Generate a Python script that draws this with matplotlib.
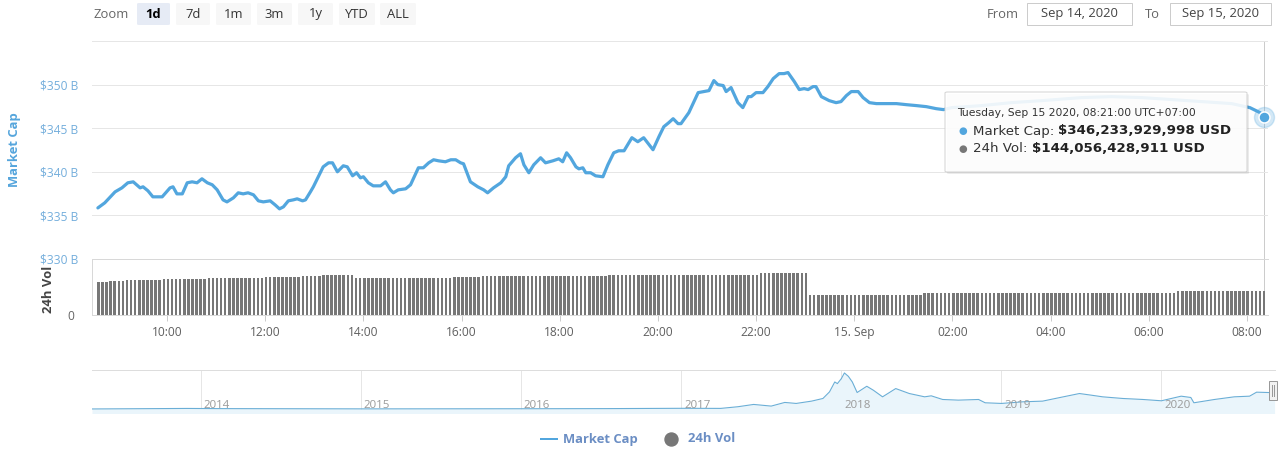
import numpy as np
import matplotlib
matplotlib.use("Agg")
import matplotlib.pyplot as plt
import matplotlib.dates as mdates
from matplotlib.patches import FancyBboxPatch, Rectangle
from matplotlib.lines import Line2D
import datetime as dt

W, H = 1280, 459

# ---------------- data ----------------
# Market cap (billions USD), hours since 00:00 Sep 14 2020 (values >24 are Sep 15)
mcap_hours = [8.59, 8.73, 8.94, 9.08, 9.20, 9.31, 9.45, 9.51, 9.61, 9.71,
              9.90, 10.06, 10.12, 10.20, 10.31, 10.41, 10.51, 10.61, 10.71, 10.82,
              10.92, 11.02, 11.14, 11.22, 11.35, 11.45, 11.55, 11.65, 11.76, 11.86,
              11.96, 12.10, 12.20, 12.29, 12.37, 12.47, 12.57, 12.65, 12.76, 12.82,
              12.92, 12.98, 13.08, 13.18, 13.29, 13.37, 13.47, 13.59, 13.67, 13.78,
              13.86, 13.94, 14.00, 14.10, 14.20, 14.35, 14.45, 14.55, 14.61, 14.71,
              14.86, 14.96, 15.12, 15.22, 15.33, 15.43, 15.53, 15.67, 15.78, 15.88,
              15.98, 16.04, 16.18, 16.33, 16.45, 16.53, 16.65, 16.80, 16.90, 16.96,
              17.10, 17.20, 17.27, 17.37, 17.47, 17.61, 17.71, 17.86, 17.98, 18.06,
              18.14, 18.22, 18.33, 18.39, 18.47, 18.53, 18.63, 18.73, 18.88, 18.98,
              19.10, 19.20, 19.31, 19.47, 19.59, 19.71, 19.90, 20.02, 20.12, 20.22,
              20.31, 20.41, 20.47, 20.63, 20.82, 20.94, 21.04, 21.14, 21.22, 21.33,
              21.39, 21.49, 21.63, 21.73, 21.84, 21.90, 22.00, 22.14, 22.24, 22.35,
              22.47, 22.57, 22.65, 22.78, 22.88, 22.98, 23.06, 23.16, 23.22, 23.33,
              23.49, 23.63, 23.73, 23.84, 23.94, 24.08, 24.18, 24.31, 24.45, 24.65,
              24.86, 25.06, 25.27, 25.47, 25.67, 25.82, 25.98, 26.59, 27.20, 27.82,
              28.63, 29.24, 29.86, 30.47, 31.08, 31.69, 32.06, 32.27, 32.35]
mcap_values = [335.86, 336.44, 337.70, 338.16, 338.74, 338.85, 338.16, 338.28, 337.82, 337.13,
               337.13, 338.16, 338.28, 337.47, 337.47, 338.74, 338.85, 338.74, 339.20, 338.74,
               338.51, 337.93, 336.78, 336.55, 337.01, 337.59, 337.47, 337.59, 337.36, 336.67,
               336.55, 336.67, 336.21, 335.75, 335.98, 336.67, 336.78, 336.90, 336.67, 336.78,
               337.70, 338.28, 339.43, 340.57, 341.03, 341.03, 340.00, 340.69, 340.57, 339.54,
               339.89, 339.31, 339.43, 338.74, 338.39, 338.39, 338.85, 337.93, 337.59, 337.93,
               338.05, 338.51, 340.46, 340.46, 341.03, 341.38, 341.26, 341.15, 341.38, 341.38,
               341.03, 340.92, 338.85, 338.28, 337.93, 337.59, 338.16, 338.74, 339.43, 340.69,
               341.61, 342.07, 340.80, 339.89, 340.80, 341.61, 341.03, 341.26, 341.49, 341.15,
               342.18, 341.61, 340.57, 340.34, 340.46, 339.89, 339.89, 339.54, 339.43, 340.80,
               342.18, 342.41, 342.41, 343.91, 343.45, 343.91, 342.53, 344.02, 345.17, 345.63,
               346.09, 345.52, 345.52, 346.78, 349.08, 349.20, 349.31, 350.46, 350.00, 349.89,
               349.20, 349.66, 347.93, 347.36, 348.62, 348.62, 349.08, 349.08, 349.77, 350.69,
               351.26, 351.26, 351.38, 350.34, 349.43, 349.54, 349.43, 349.77, 349.77, 348.62,
               348.16, 347.93, 348.05, 348.74, 349.20, 349.20, 348.51, 347.93, 347.82, 347.82,
               347.82, 347.70, 347.59, 347.47, 347.24, 347.13, 347.36, 347.59, 347.93, 348.16,
               348.51, 348.62, 348.51, 348.28, 348.05, 347.82, 347.36, 346.78, 346.23]

# 24h volume (billions USD): level changes (hour, value); one bar every 5 minutes
vol_step_hours = [8.60, 8.83, 9.17, 9.92, 10.83, 12.00, 12.75, 13.17, 13.80, 15.77,
                  16.40, 19.00, 22.08, 23.08, 25.42, 28.07, 30.58]
vol_step_values = [199, 205, 211, 217, 223, 231, 237, 243, 225, 233,
                   236, 240, 253, 122, 132, 136, 144.06]
bar_first_minute = 8 * 60 + 36          # 08:36 Sep 14
bar_last_minute = 32 * 60 + 21          # 08:21 Sep 15
bar_step_minutes = 5

xtick_hours = [10, 12, 14, 16, 18, 20, 22, 24, 26, 28, 30, 32]
xtick_labels = ["10:00", "12:00", "14:00", "16:00", "18:00", "20:00", "22:00",
                "15. Sep", "02:00", "04:00", "06:00", "08:00"]
ytick_values = [330, 335, 340, 345, 350, 355]
ytick_labels = ["$330 B", "$335 B", "$340 B", "$345 B", "$350 B", ""]

# Navigator: total market cap history (billions USD, as drawn)
nav_dates = ["2013-04-28", "2013-11-30", "2014-02-15", "2014-06-15", "2015-01-15",
             "2016-01-15", "2016-07-15", "2017-01-01", "2017-04-01", "2017-05-10",
             "2017-06-15", "2017-07-25", "2017-08-25", "2017-09-20", "2017-10-25",
             "2017-11-20", "2017-12-05", "2017-12-17", "2017-12-23", "2018-01-01",
             "2018-01-08", "2018-01-17", "2018-01-26", "2018-02-06", "2018-02-28",
             "2018-03-15", "2018-04-05", "2018-05-05", "2018-06-05", "2018-07-10",
             "2018-07-25", "2018-08-20", "2018-09-25", "2018-11-10", "2018-11-25",
             "2019-01-01", "2019-02-20", "2019-04-05", "2019-05-15", "2019-06-28",
             "2019-07-25", "2019-08-20", "2019-10-05", "2019-11-20", "2020-01-01",
             "2020-02-15", "2020-03-08", "2020-03-15", "2020-05-01", "2020-06-15",
             "2020-07-20", "2020-08-05", "2020-09-01", "2020-09-15"]
nav_values = [2, 14, 10, 8, 4, 7, 10, 17, 15, 53,
              106, 68, 152, 129, 182, 243, 395, 623, 585, 700,
              830, 752, 623, 380, 524, 433, 281, 471, 357, 281,
              304, 220, 205, 220, 144, 129, 167, 182, 266, 357,
              319, 281, 243, 220, 190, 296, 266, 144, 220, 281,
              296, 388, 380, 372]
nav_years = [2014, 2015, 2016, 2017, 2018, 2019, 2020]

zoom_buttons = ["1d", "7d", "1m", "3m", "1y", "YTD", "ALL"]
date_from = "Sep 14, 2020"
date_to = "Sep 15, 2020"
tooltip_title = "Tuesday, Sep 15 2020, 08:21:00 UTC+07:00"
tooltip_mcap = "$346,233,929,998 USD"
tooltip_vol = "$144,056,428,911 USD"

# ---------------- styling ----------------
FONT = "Open Sans"
BLUE = "#52a6de"
LABEL_BLUE = "#74aedc"
GRID = "#e6e6e6"
BAR = "#777777"
PT = 0.72  # points per pixel at dpi 100


def box(l, t, r, b):
    return [l / W, 1 - b / H, (r - l) / W, (b - t) / H]


def fx(x):
    return x / W


def fy(y):
    return 1 - y / H


fig = plt.figure(figsize=(W / 100, H / 100), dpi=100)
fig.patch.set_facecolor("white")

XMIN, XMAX = 8.47, 32.43

# ---- main pane ----
ax = fig.add_axes(box(92, 41, 1268, 259))
ax.plot(mcap_hours, mcap_values, color=BLUE, lw=3.2 * PT, solid_joinstyle="round",
        solid_capstyle="round", zorder=3)
ax.set_xlim(XMIN, XMAX)
ax.set_ylim(330, 355)
ax.set_yticks(ytick_values)
ax.set_yticklabels(ytick_labels)
ax.set_xticks([])
ax.tick_params(axis="y", length=0, pad=14 * PT, labelsize=12 * PT, labelcolor=LABEL_BLUE)
for lab in ax.get_yticklabels():
    lab.set_fontfamily(FONT)
ax.grid(axis="y", color=GRID, lw=1 * PT)
for s in ax.spines.values():
    s.set_visible(False)
ax.set_facecolor("none")

# crosshair + hover point
last_t, last_v = mcap_hours[-1], mcap_values[-1]
ax.axvline(last_t, color="#cccccc", lw=1 * PT, zorder=1, ymin=0, ymax=1)
ax.plot([last_t], [last_v], "o", ms=20 * PT, color=BLUE, alpha=0.25, zorder=4, clip_on=False)
ax.plot([last_t], [last_v], "o", ms=11 * PT, color=BLUE, mec="white", mew=1.5 * PT,
        zorder=5, clip_on=False)

# ---- volume pane ----
vax = fig.add_axes(box(92, 259, 1268, 315))
bar_minutes = np.arange(bar_first_minute, bar_last_minute + 1, bar_step_minutes)
bar_hours = bar_minutes / 60.0
idx = np.searchsorted(vol_step_hours, bar_hours + 1e-9, side="right") - 1
idx = np.clip(idx, 0, len(vol_step_values) - 1)
bar_vals = np.asarray(vol_step_values)[idx]
vax.bar(bar_hours, bar_vals, width=2.6 / 49.0, color=BAR, linewidth=0, zorder=2)
vax.axvline(last_t, color="#cccccc", lw=1 * PT, zorder=1)
vax.set_xlim(XMIN, XMAX)
vax.set_ylim(0, 340)
vax.set_yticks([0])
vax.set_yticklabels(["0"])
vax.tick_params(axis="y", length=0, pad=18 * PT, labelsize=12 * PT, labelcolor="#666666")
vax.set_xticks(xtick_hours)
vax.set_xticklabels(xtick_labels)
vax.tick_params(axis="x", length=6 * PT, width=1 * PT, color="#cccccc", direction="out",
                pad=5 * PT, labelsize=12 * PT, labelcolor="#606060")
for lab in vax.get_xticklabels() + vax.get_yticklabels():
    lab.set_fontfamily(FONT)
vax.spines["right"].set_visible(False)
for k in ["left", "top", "bottom"]:
    vax.spines[k].set_color("#d8d8d8")
    vax.spines[k].set_linewidth(1 * PT)
vax.set_facecolor("none")

# axis titles
fig.text(fx(15), fy(150), "Market Cap", rotation=90, ha="center", va="center",
         color="#55a5dc", fontsize=13 * PT, fontweight="bold", family=FONT)
fig.text(fx(48), fy(289), "24h Vol", rotation=90, ha="center", va="center",
         color="#444444", fontsize=13 * PT, fontweight="bold", family=FONT)

# ---- tooltip ----
shadow = FancyBboxPatch((fx(947), fy(174)), fx(1249) - fx(947), fy(94) - fy(174),
                        boxstyle="round,pad=0,rounding_size=0.002", transform=fig.transFigure,
                        facecolor="#000000", alpha=0.08, edgecolor="none", zorder=9)
fig.patches.append(shadow)
tip = FancyBboxPatch((fx(945), fy(172)), fx(1247) - fx(945), fy(92) - fy(172),
                     boxstyle="round,pad=0,rounding_size=0.002", transform=fig.transFigure,
                     facecolor="white", alpha=0.9, edgecolor="#cfcfcf", lw=1 * PT, zorder=10)
fig.patches.append(tip)
TFONT = "DejaVu Sans"
fig.text(fx(957), fy(113), tooltip_title, ha="left", va="center", fontsize=10.8 * PT,
         color="#333333", family=TFONT, zorder=11)
fig.text(fx(963), fy(131), "●", ha="center", va="center", fontsize=10 * PT, color=BLUE,
         family=TFONT, zorder=11)
t1 = fig.text(fx(973), fy(131), "Market Cap: ", ha="left", va="center", fontsize=13.4 * PT,
              color="#333333", family=TFONT, zorder=11)
fig.text(fx(963), fy(149), "●", ha="center", va="center", fontsize=10 * PT, color=BAR,
         family=TFONT, zorder=11)
t2 = fig.text(fx(973), fy(149), "24h Vol: ", ha="left", va="center", fontsize=13.4 * PT,
              color="#333333", family=TFONT, zorder=11)
for base, val in [(t1, tooltip_mcap), (t2, tooltip_vol)]:
    fig.add_artist(matplotlib.text.Annotation(
        val, xy=(1, 0.5), xycoords=base, ha="left", va="center", fontsize=13.4 * PT,
        color="#222222", fontweight="bold", family=TFONT, zorder=11))

# ---- navigator ----
nax = fig.add_axes(box(92, 370, 1275, 413))
nd = [dt.datetime.strptime(d, "%Y-%m-%d") for d in nav_dates]
nax.fill_between(nd, nav_values, -200, color="#eaf5fb", linewidth=0, zorder=1)
nax.plot(nd, nav_values, color="#6aaed6", lw=1.1 * PT, zorder=2)
nax.set_xlim(dt.datetime(2013, 4, 28), dt.datetime(2020, 9, 16))
nax.set_ylim(-91, 898)
nax.set_yticks([])
year_dates = [dt.datetime(y, 1, 1) for y in nav_years]
nax.set_xticks([])
for y, d in zip(nav_years, year_dates):
    nax.axvline(d, color="#e6e6e6", lw=1 * PT, zorder=0)
    nax.annotate(str(y), xy=(mdates.date2num(d), 0), xycoords=("data", "axes fraction"),
                 xytext=(3 * PT, 2 * PT), textcoords="offset points", ha="left",
                 va="bottom", fontsize=11.5 * PT, color="#9a9a9a", family=FONT, zorder=3)
for k in ["left", "right", "bottom"]:
    nax.spines[k].set_visible(False)
nax.spines["top"].set_color("#dddddd")
nax.spines["top"].set_linewidth(1 * PT)
# navigator handle
handle = Rectangle((fx(1269), fy(400)), 8 / W, (400 - 381) / H,
                   transform=fig.transFigure, facecolor="#f2f2f2", edgecolor="#999999",
                   lw=1 * PT, zorder=6)
fig.patches.append(handle)
for hx in (1272, 1274):
    fig.add_artist(Line2D([fx(hx), fx(hx)], [fy(385), fy(396)], color="#999999",
                          lw=1 * PT, zorder=7))

# ---- zoom buttons ----
fig.text(fx(111), fy(14), "Zoom", ha="center", va="center", fontsize=13 * PT,
         color="#666666", family=FONT)
btn_left = [137, 176, 216, 257, 298, 339, 380]
btn_right = [170, 210, 251, 292, 333, 375, 416]
for i, lab in enumerate(zoom_buttons):
    sel = i == 0
    p = FancyBboxPatch((fx(btn_left[i]), fy(25)), (btn_right[i] - btn_left[i]) / W, 22 / H,
                       boxstyle="round,pad=0,rounding_size=0.002", transform=fig.transFigure,
                       facecolor="#e6ebf5" if sel else "#f7f7f7", edgecolor="none")
    fig.patches.append(p)
    fig.text(fx((btn_left[i] + btn_right[i]) / 2), fy(14), lab, ha="center", va="center",
             fontsize=13 * PT, color="#000000" if sel else "#333333",
             fontweight="bold" if sel else "normal", family=FONT)

# ---- date range inputs ----
fig.text(fx(1019), fy(14), "From", ha="right", va="center", fontsize=13 * PT,
         color="#666666", family=FONT)
fig.text(fx(1160), fy(14), "To", ha="right", va="center", fontsize=13 * PT,
         color="#666666", family=FONT)
for (l, r, txt) in [(1027, 1132, date_from), (1170, 1271, date_to)]:
    fig.patches.append(Rectangle((fx(l), fy(25)), (r - l) / W, 22 / H,
                                 transform=fig.transFigure, facecolor="white",
                                 edgecolor="#cccccc", lw=1 * PT))
    fig.text(fx((l + r) / 2), fy(14), txt, ha="center", va="center", fontsize=13 * PT,
             color="#444444", family=FONT)

# ---- legend ----
fig.add_artist(Line2D([fx(541), fx(557)], [fy(439), fy(439)], color=BLUE, lw=2 * PT))
fig.text(fx(563), fy(439), "Market Cap", ha="left", va="center", fontsize=13 * PT,
         color="#6b8ec4", fontweight="bold", family=FONT)
fig.add_artist(Line2D([fx(671)], [fy(439)], marker="o", ms=13 * PT, color=BAR, lw=0))
fig.text(fx(688), fy(439), "24h Vol", ha="left", va="center", fontsize=13 * PT,
         color="#6b8ec4", fontweight="bold", family=FONT)

fig.savefig("out.png", dpi=100, facecolor="white")
